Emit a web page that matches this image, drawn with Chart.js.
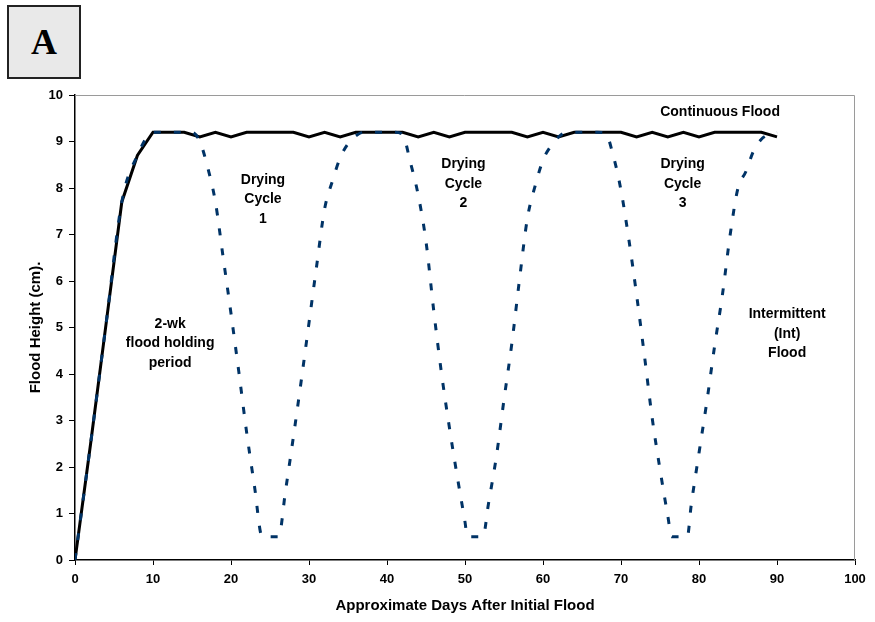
<!DOCTYPE html>
<html>
<head>
<meta charset="utf-8">
<script src="https://cdn.jsdelivr.net/npm/chart.js@4.4.1/dist/chart.umd.min.js"></script>
<style>
    body { margin: 0; background: #fff; }
    #wrap { position: relative; width: 875px; height: 622px; }
    #panel {
        position: absolute; left: 7px; top: 5px; width: 70px; height: 70px;
        background: #e9e9e9; border: 2px solid #222;
        font: bold 36px "Liberation Serif", "Times New Roman", serif;
        text-align: center; line-height: 70px; color: #000;
    }
</style>
</head>
<body>
<div id="wrap">
    <canvas id="chart1"></canvas>
    <div id="panel">A</div>
</div>
<script>
// continuous flood, read every 2 days
const contDays = [0, 2, 4, 6, 8, 10, 12, 14, 16, 18, 20, 22, 24, 26, 28, 30, 32, 34, 36, 38, 40, 42, 44,
    46, 48, 50, 52, 54, 56, 58, 60, 62, 64, 66, 68, 70, 72, 74, 76, 78, 80, 82, 84, 86, 88, 90];
const contHeight = [0, 2.5, 5.1, 7.7, 8.7, 9.2, 9.2, 9.2, 9.1, 9.2, 9.1, 9.2, 9.2, 9.2, 9.2, 9.1, 9.2, 9.1, 9.2, 9.2, 9.2, 9.2, 9.1,
    9.2, 9.1, 9.2, 9.2, 9.2, 9.2, 9.1, 9.2, 9.1, 9.2, 9.2, 9.2, 9.2, 9.1, 9.2, 9.1, 9.2, 9.1, 9.2, 9.2, 9.2, 9.2, 9.1];

// intermittent flood (three drying cycles)
const intDays = [0, 2, 4, 6, 8, 10, 12, 14, 15, 16, 17, 18, 19, 20, 21, 22, 23, 24,
    26.1, 27, 28, 29, 30, 31, 32, 33, 34, 35, 36, 37, 39, 41,
    42, 43, 44, 45, 46, 47, 48, 49, 50, 50.3,
    52.3, 53, 54, 55, 56, 57, 58, 59, 60, 61, 62, 63, 65, 67,
    68, 69, 70, 71, 72, 73, 74, 75, 76, 76.5,
    78.5, 79, 80, 81, 82, 83, 84, 85, 86, 87, 88, 89, 90];
const intHeight = [0, 2.5, 5.1, 7.7, 8.7, 9.2, 9.2, 9.2, 9.2, 9.0, 8.45, 7.7, 6.5, 5.3, 4.05, 2.75, 1.6, 0.5,
    0.5, 1.5, 2.65, 3.85, 5.1, 6.35, 7.55, 8.15, 8.65, 8.95, 9.12, 9.2, 9.2, 9.2,
    9.15, 8.55, 7.85, 6.85, 5.35, 4.0, 2.85, 1.8, 0.82, 0.5,
    0.5, 1.2, 2.2, 3.45, 4.65, 6.05, 7.35, 8.05, 8.6, 8.9, 9.1, 9.2, 9.2, 9.2,
    9.18, 8.7, 7.95, 6.9, 5.7, 4.4, 3.05, 1.95, 0.95, 0.5,
    0.5, 1.18, 2.3, 3.4, 4.6, 5.7, 7.0, 8.0, 8.35, 8.8, 9.05, 9.15, 9.2];

const yTicks = [0, 1, 2, 3, 4, 5, 6, 7, 8, 9, 10];
const xTicks = [0, 10, 20, 30, 40, 50, 60, 70, 80, 90, 100];

// text notes: first-line baseline in data units
const notes = [
    { x: 82.7, y: 9.54, lines: ["Continuous Flood"] },
    { x: 24.1, y: 8.09, lines: ["Drying", "Cycle", "1"] },
    { x: 49.8, y: 8.42, lines: ["Drying", "Cycle", "2"] },
    { x: 77.9, y: 8.42, lines: ["Drying", "Cycle", "3"] },
    { x: 12.2, y: 5.0, lines: ["2-wk", "flood holding", "period"] },
    { x: 91.3, y: 5.2, lines: ["Intermittent", "(Int)", "Flood"] },
];

const FONT = 'Arial, "Liberation Sans", sans-serif';

const toPoints = (xs, ys) => xs.map((x, i) => ({ x: x, y: ys[i] }));

const plotFrame = {
    id: "plotFrame",
    beforeDatasetsDraw(chart) {
        const { ctx, chartArea: a } = chart;
        ctx.save();
        ctx.strokeStyle = "#9a9a9a";
        ctx.lineWidth = 1;
        ctx.beginPath();
        ctx.moveTo(a.left, a.top + 0.5);
        ctx.lineTo(a.right - 0.5, a.top + 0.5);
        ctx.lineTo(a.right - 0.5, a.bottom);
        ctx.stroke();
        ctx.restore();
    },
    afterDatasetsDraw(chart) {
        const { ctx, scales } = chart;
        ctx.save();
        ctx.fillStyle = "#000";
        ctx.font = "bold 14px " + FONT;
        ctx.textAlign = "center";
        ctx.textBaseline = "alphabetic";
        notes.forEach((n) => {
            const px = scales.x.getPixelForValue(n.x);
            const py = scales.y.getPixelForValue(n.y);
            n.lines.forEach((t, i) => ctx.fillText(t, px, py + i * 19.5));
        });
        ctx.restore();
    },
};

const ctx = document.getElementById("chart1").getContext("2d");

new Chart(ctx, {
    type: "line",
    data: {
        datasets: [
            {
                label: "Intermittent (Int) Flood",
                data: toPoints(intDays, intHeight),
                borderColor: "#003366",
                borderWidth: 3,
                borderDash: [7, 13],
                borderCapStyle: "butt",
                pointRadius: 0,
                cubicInterpolationMode: "monotone",
                order: 0,
            },
            {
                label: "Continuous Flood",
                data: toPoints(contDays, contHeight),
                borderColor: "#000",
                borderWidth: 3,
                pointRadius: 0,
                tension: 0,
                order: 1,
            },
        ],
    },
    options: {
        responsive: true,
        maintainAspectRatio: false,
        animation: false,
        layout: { padding: { top: 95, right: 20, left: 0, bottom: 0 } },
        plugins: {
            legend: { display: false },
            tooltip: { enabled: false },
        },
        scales: {
            x: {
                type: "linear",
                min: 0,
                max: 100,
                afterFit: (scale) => { scale.height = 62; },
                afterBuildTicks: (scale) => { scale.ticks = xTicks.map((v) => ({ value: v })); },
                grid: { drawOnChartArea: false, tickLength: 5, color: "#000" },
                border: { color: "#000", width: 1.5 },
                ticks: {
                    color: "#000",
                    padding: 7,
                    maxRotation: 0,
                    font: { family: FONT, size: 13, weight: "bold" },
                },
                title: {
                    display: true,
                    text: "Approximate Days After Initial Flood",
                    color: "#000",
                    padding: { top: 0, bottom: 7 },
                    font: { family: FONT, size: 15, weight: "bold" },
                },
            },
            y: {
                min: 0,
                max: 10,
                afterFit: (scale) => { scale.width = 75; },
                afterBuildTicks: (scale) => { scale.ticks = yTicks.map((v) => ({ value: v })); },
                grid: { drawOnChartArea: false, tickLength: 6, color: "#000" },
                border: { color: "#000", width: 1.5 },
                ticks: {
                    color: "#000",
                    padding: 6,
                    font: { family: FONT, size: 13, weight: "bold" },
                },
                title: {
                    display: true,
                    text: "Flood Height (cm).",
                    color: "#000",
                    padding: { top: 27, bottom: 0 },
                    font: { family: FONT, size: 15, weight: "bold" },
                },
            },
        },
    },
    plugins: [plotFrame],
});
</script>
</body>
</html>
